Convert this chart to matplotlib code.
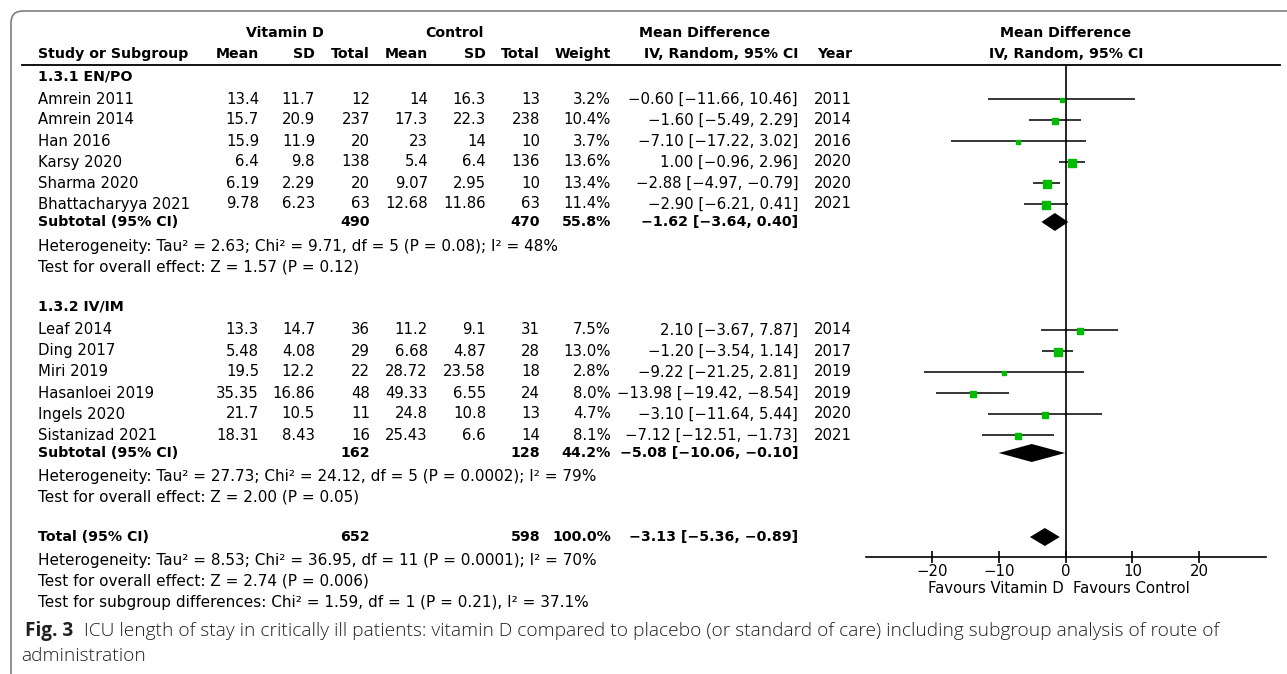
import numpy as np
import matplotlib
matplotlib.use("Agg")
import matplotlib.pyplot as plt
from matplotlib.patches import FancyBboxPatch

# study level data
group1_names = ["Amrein 2011", "Amrein 2014", "Han 2016", "Karsy 2020", "Sharma 2020", "Bhattacharyya 2021"]
group1_vit_mean = [13.4, 15.7, 15.9, 6.4, 6.19, 9.78]
group1_vit_sd = [11.7, 20.9, 11.9, 9.8, 2.29, 6.23]
group1_vit_n = [12, 237, 20, 138, 20, 63]
group1_ctl_mean = [14, 17.3, 23, 5.4, 9.07, 12.68]
group1_ctl_sd = [16.3, 22.3, 14, 6.4, 2.95, 11.86]
group1_ctl_n = [13, 238, 10, 136, 10, 63]
group1_weight = [3.2, 10.4, 3.7, 13.6, 13.4, 11.4]
group1_md = [-0.60, -1.60, -7.10, 1.00, -2.88, -2.90]
group1_lo = [-11.66, -5.49, -17.22, -0.96, -4.97, -6.21]
group1_hi = [10.46, 2.29, 3.02, 2.96, -0.79, 0.41]
group1_year = [2011, 2014, 2016, 2020, 2020, 2021]

group2_names = ["Leaf 2014", "Ding 2017", "Miri 2019", "Hasanloei 2019", "Ingels 2020", "Sistanizad 2021"]
group2_vit_mean = [13.3, 5.48, 19.5, 35.35, 21.7, 18.31]
group2_vit_sd = [14.7, 4.08, 12.2, 16.86, 10.5, 8.43]
group2_vit_n = [36, 29, 22, 48, 11, 16]
group2_ctl_mean = [11.2, 6.68, 28.72, 49.33, 24.8, 25.43]
group2_ctl_sd = [9.1, 4.87, 23.58, 6.55, 10.8, 6.6]
group2_ctl_n = [31, 28, 18, 24, 13, 14]
group2_weight = [7.5, 13.0, 2.8, 8.0, 4.7, 8.1]
group2_md = [2.10, -1.20, -9.22, -13.98, -3.10, -7.12]
group2_lo = [-3.67, -3.54, -21.25, -19.42, -11.64, -12.51]
group2_hi = [7.87, 1.14, 2.81, -8.54, 5.44, -1.73]
group2_year = [2014, 2017, 2019, 2019, 2020, 2021]

# pooled estimates: subgroup 1, subgroup 2, total
pooled_labels = ["Subtotal (95% CI)", "Subtotal (95% CI)", "Total (95% CI)"]
pooled_vit_n = [490, 162, 652]
pooled_ctl_n = [470, 128, 598]
pooled_weight = [55.8, 44.2, 100.0]
pooled_md = [-1.62, -5.08, -3.13]
pooled_lo = [-3.64, -10.06, -5.36]
pooled_hi = [0.40, -0.10, -0.89]

stats_lines = [
    "Heterogeneity: Tau\u00b2 = 2.63; Chi\u00b2 = 9.71, df = 5 (P = 0.08); I\u00b2 = 48%",
    "Test for overall effect: Z = 1.57 (P = 0.12)",
    "Heterogeneity: Tau\u00b2 = 27.73; Chi\u00b2 = 24.12, df = 5 (P = 0.0002); I\u00b2 = 79%",
    "Test for overall effect: Z = 2.00 (P = 0.05)",
    "Heterogeneity: Tau\u00b2 = 8.53; Chi\u00b2 = 36.95, df = 11 (P = 0.0001); I\u00b2 = 70%",
    "Test for overall effect: Z = 2.74 (P = 0.006)",
    "Test for subgroup differences: Chi\u00b2 = 1.59, df = 1 (P = 0.21), I\u00b2 = 37.1%",
]
xticks = [-20, -10, 0, 10, 20]

# layout (pixel rows / columns)
W, H = 1287, 674
FS = 10.7      # regular table text
FSB = 10.2     # bold table text
GREEN = "#00bb00"
row1 = [99, 120, 141, 162, 183, 204]
row2 = [330, 351, 372, 393, 414, 435]
pooled_rows = [222, 453, 537]
stats_rows = [246, 267, 476, 497, 560, 581, 602]
col_x = {"name": 38, "vm": 259, "vsd": 315, "vn": 370, "cm": 428, "csd": 486,
         "cn": 540, "w": 611, "ci": 798, "yr": 852}


def minus(s):
    return s.replace("-", "\u2212")


def ci_text(md, lo, hi):
    return minus(f"{md:.2f} [{lo:.2f}, {hi:.2f}]")


fig = plt.figure(figsize=(W / 100, H / 100), dpi=100)
ax = fig.add_axes([0, 0, 1, 1])
ax.set_xlim(0, W)
ax.set_ylim(H, 0)
ax.axis("off")

# frame with rounded corner (only top and left visible)
ax.add_patch(FancyBboxPatch((11, 11), 1500, 700, boxstyle="round,pad=0,rounding_size=12",
                            fc="none", ec="#7f7f7f", lw=1.2))


def txt(x, y, s, ha="left", bold=False, **kw):
    ax.text(x, y, s, ha=ha, va="center", fontsize=FSB if bold else FS,
            fontweight="bold" if bold else "normal", **kw)


# headers
txt(285, 33, "Vitamin D", ha="center", bold=True)
txt(454, 33, "Control", ha="center", bold=True)
txt(705, 33, "Mean Difference", ha="center", bold=True)
txt(1066, 33, "Mean Difference", ha="center", bold=True)
txt(col_x["name"], 54, "Study or Subgroup", bold=True)
for key, lab in [("vm", "Mean"), ("vsd", "SD"), ("vn", "Total"), ("cm", "Mean"),
                 ("csd", "SD"), ("cn", "Total"), ("w", "Weight"),
                 ("ci", "IV, Random, 95% CI"), ("yr", "Year")]:
    txt(col_x[key], 54, lab, ha="right", bold=True)
txt(1066, 54, "IV, Random, 95% CI", ha="center", bold=True)
ax.plot([22, 1280], [65, 65], color="black", lw=1.3)

txt(col_x["name"], 76, "1.3.1 EN/PO", bold=True)
txt(col_x["name"], 306, "1.3.2 IV/IM", bold=True)

groups = [
    (row1, group1_names, group1_vit_mean, group1_vit_sd, group1_vit_n, group1_ctl_mean,
     group1_ctl_sd, group1_ctl_n, group1_weight, group1_md, group1_lo, group1_hi, group1_year),
    (row2, group2_names, group2_vit_mean, group2_vit_sd, group2_vit_n, group2_ctl_mean,
     group2_ctl_sd, group2_ctl_n, group2_weight, group2_md, group2_lo, group2_hi, group2_year),
]
for rows, names, vm, vsd, vn, cm, csd, cn, w, md, lo, hi, yr in groups:
    for i, y in enumerate(rows):
        txt(col_x["name"], y, names[i])
        txt(col_x["vm"], y, f"{vm[i]:g}", ha="right")
        txt(col_x["vsd"], y, f"{vsd[i]:g}", ha="right")
        txt(col_x["vn"], y, str(vn[i]), ha="right")
        txt(col_x["cm"], y, f"{cm[i]:g}", ha="right")
        txt(col_x["csd"], y, f"{csd[i]:g}", ha="right")
        txt(col_x["cn"], y, str(cn[i]), ha="right")
        txt(col_x["w"], y, f"{w[i]:.1f}%", ha="right")
        txt(col_x["ci"], y, ci_text(md[i], lo[i], hi[i]), ha="right")
        txt(col_x["yr"], y, str(yr[i]), ha="right")

for i, y in enumerate(pooled_rows):
    txt(col_x["name"], y, pooled_labels[i], bold=True)
    txt(col_x["vn"], y, str(pooled_vit_n[i]), ha="right", bold=True)
    txt(col_x["cn"], y, str(pooled_ctl_n[i]), ha="right", bold=True)
    txt(col_x["w"], y, f"{pooled_weight[i]:.1f}%", ha="right", bold=True)
    txt(col_x["ci"], y, ci_text(pooled_md[i], pooled_lo[i], pooled_hi[i]), ha="right", bold=True)

for y, s in zip(stats_rows, stats_lines):
    ax.text(col_x["name"], y, s, ha="left", va="center", fontsize=11.0)

# caption
ax.text(25, 631, "Fig. 3", ha="left", va="center", fontsize=13.6, fontweight="bold",
        family="Open Sans", color="#231f20")
ax.text(84, 631, "ICU length of stay in critically ill patients: vitamin D compared to placebo "
        "(or standard of care) including subgroup analysis of route of",
        ha="left", va="center", fontsize=13.75, family="Open Sans", fontweight="light",
        color="#231f20")
ax.text(21, 656, "administration", ha="left", va="center", fontsize=13.75,
        family="Open Sans", fontweight="light", color="#231f20")

# forest panel, y in the same pixel rows as the table
fx = fig.add_axes([865.7 / W, (H - 557) / H, 400 / W, (557 - 65) / H])
fx.set_xlim(-30, 30)
fx.set_ylim(557, 65)
fx.patch.set_alpha(0)
for s in ["top", "left", "right"]:
    fx.spines[s].set_visible(False)
fx.spines["bottom"].set_linewidth(1.2)
fx.set_yticks([])
fx.set_xticks(xticks)
fx.tick_params(axis="x", direction="inout", length=8, width=1.2, labelsize=FS, pad=1)
fx.axvline(0, color="black", lw=1.2)

for rows, w, md, lo, hi in [(row1, group1_weight, group1_md, group1_lo, group1_hi),
                            (row2, group2_weight, group2_md, group2_lo, group2_hi)]:
    fx.hlines(rows, lo, hi, color="black", lw=1.1)
    for y, wi, m in zip(rows, w, md):
        size = 2.6 + 0.22 * wi  # marker side grows with weight
        fx.plot(m, y + 1.5, "s", ms=size, color=GREEN, mec=GREEN)

for y, m, lo, hi in zip(pooled_rows, pooled_md, pooled_lo, pooled_hi):
    fx.fill([lo, m, hi, m], [y, y - 9, y, y + 9], color="black", lw=0)

fx.text(-0.3, 589, "Favours Vitamin D", ha="right", va="center", fontsize=FS)
fx.text(1.1, 589, "Favours Control", ha="left", va="center", fontsize=FS)

fig.savefig("out.png", dpi=100)
